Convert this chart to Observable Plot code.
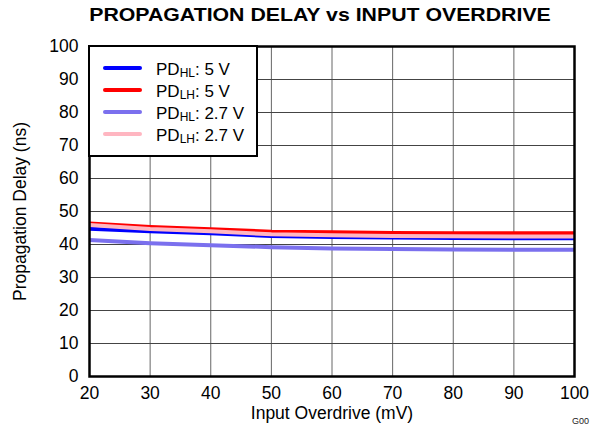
<!DOCTYPE html>
<html>
<head>
<meta charset="utf-8">
<script src="https://cdn.jsdelivr.net/npm/d3@7"></script>
<script src="https://cdn.jsdelivr.net/npm/@observablehq/plot@0.6"></script>
<style>
  body { margin: 0; background: white; }
  #wrap { position: relative; width: 592px; height: 430px; font-family: "Liberation Sans", Arial, sans-serif; background: white; overflow: hidden; }
  #title { height: 28px; font-size: 19px; font-weight: bold; width: 592px; position: relative; line-height: 22px; }
  #title span { position: absolute; left: 320px; top: 4px; white-space: nowrap; transform: translateX(-50%) scaleX(1.12); }
  #chart svg { display: block; }
</style>
</head>
<body>
<div id="wrap">
  <div id="title"><span>PROPAGATION DELAY vs INPUT OVERDRIVE</span></div>
  <div id="chart"></div>
</div>
<script>
const overdrive = [20, 30, 40, 50, 60, 70, 80, 90, 100];
const pdHL5   = [44.8, 44.0, 43.4, 42.6, 42.3, 42.1, 42.0, 41.9, 41.9];
const pdLH5   = [46.4, 45.3, 44.6, 43.9, 43.7, 43.5, 43.4, 43.4, 43.4];
const pdHL27  = [41.4, 40.4, 39.8, 39.2, 38.8, 38.6, 38.5, 38.4, 38.4];
const pdLH27  = [45.9, 44.7, 44.0, 43.1, 42.8, 42.6, 42.5, 42.4, 42.4];
const xTicks = [20, 30, 40, 50, 60, 70, 80, 90, 100];
const yTicks = [0, 10, 20, 30, 40, 50, 60, 70, 80, 90, 100];

const series = [
  {sub: "HL", volt: "5 V",   values: pdHL5,  color: "#0000ff"},
  {sub: "LH", volt: "5 V",   values: pdLH5,  color: "#ff0000"},
  {sub: "HL", volt: "2.7 V", values: pdHL27, color: "#7b70ee"},
  {sub: "LH", volt: "2.7 V", values: pdLH27, color: "#ffb6c1"}
];

const lineMarks = series.map(s =>
  Plot.line(overdrive.map((x, i) => ({x, y: s.values[i]})), {x: "x", y: "y", stroke: s.color, strokeWidth: 4, strokeLinecap: "butt"})
);

const frameTop = 18; // SVG-local y of the plot frame top (page y 46)
const chart = Plot.plot({
  width: 592,
  height: 402,
  marginLeft: 89,
  marginRight: 18,
  marginTop: frameTop,
  marginBottom: 54,
  style: {fontFamily: "'Liberation Sans', Arial, sans-serif", fontSize: "17.5px", background: "white", color: "black"},
  x: {domain: [20, 100]},
  y: {domain: [0, 100]},
  marks: [
    Plot.gridX(xTicks, {stroke: "#666", strokeOpacity: 1, strokeWidth: 1}),
    Plot.gridY(yTicks, {stroke: "#444", strokeOpacity: 1, strokeWidth: 1}),
    Plot.axisX(xTicks, {tickSize: 0, tickPadding: 10, tickFormat: d => String(d), label: "Input Overdrive (mV)", labelAnchor: "center", labelArrow: "none", labelOffset: 42}),
    Plot.axisY(yTicks, {tickSize: 0, tickPadding: 11, tickFormat: d => String(d), label: "Propagation Delay (ns)", labelAnchor: "center", labelArrow: "none", labelOffset: 76}),
    ...lineMarks,
    Plot.frame({stroke: "black", strokeWidth: 2.5})
  ]
});
document.getElementById("chart").appendChild(chart);

// Legend
const svg = d3.select(chart);
const lg = svg.append("g").attr("text-anchor", "start");
lg.append("rect").attr("x", 89).attr("y", frameTop).attr("width", 168).attr("height", 110)
  .attr("fill", "white").attr("stroke", "black").attr("stroke-width", 2);
series.forEach((s, i) => {
  const cy = frameTop + 22 + i * 22;
  lg.append("line").attr("x1", 105).attr("x2", 140).attr("y1", cy).attr("y2", cy)
    .attr("stroke", s.color).attr("stroke-width", 4).attr("stroke-linecap", "round");
  const t = lg.append("text").attr("x", 156).attr("y", cy + 6.5)
    .attr("text-anchor", "start").attr("font-size", 17).attr("fill", "black");
  t.append("tspan").text("PD");
  t.append("tspan").attr("font-size", 12).attr("dy", 2.5).text(s.sub);
  t.append("tspan").attr("dy", -2.5).text(": " + s.volt);
});
svg.append("text").attr("x", 572).attr("y", 396).attr("text-anchor", "start").attr("font-size", 9).attr("fill", "#222").text("G00");
</script>
</body>
</html>
